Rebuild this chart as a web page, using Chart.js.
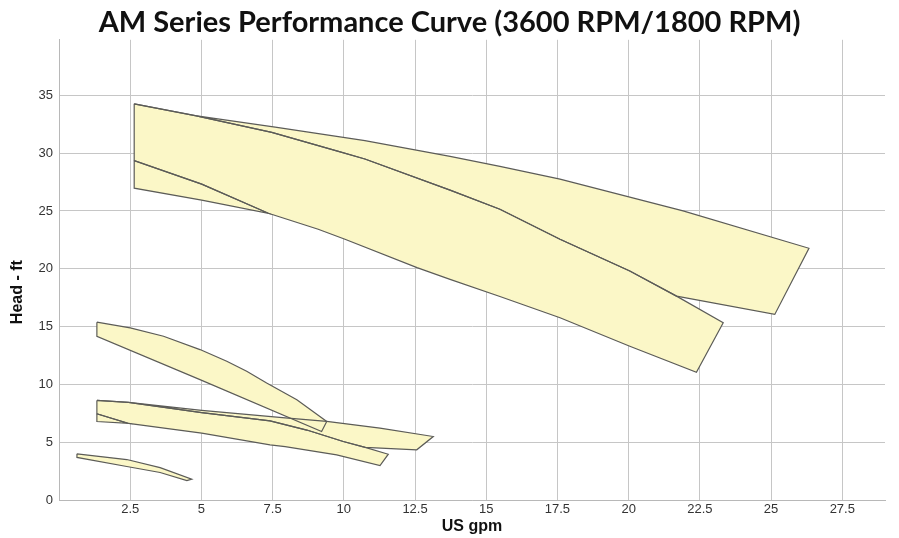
<!DOCTYPE html>
<html>
<head>
<meta charset="utf-8">
<title>AM Series Performance Curve</title>
<script src="https://cdn.jsdelivr.net/npm/chart.js@4.4.1/dist/chart.umd.min.js"></script>
<style>
  body { margin: 0; background: #fff; }
  #wrap { width: 899px; height: 538px; }
</style>
</head>
<body>
<div id="wrap"><canvas id="curve"></canvas></div>
<script>
// 3600 RPM, upper band (top curve down to the right-hand tip)
const bigUpperGpm  = [2.64, 4.78, 7.59, 10.74, 13.73, 15.48, 17.59, 21.91, 26.33, 25.13, 21.68, 20.04, 17.59, 15.48, 13.73, 10.74, 9.81, 7.47, 4.78, 2.64];
const bigUpperHead = [34.26, 33.24, 32.24, 31.08, 29.72, 28.85, 27.75, 25.0, 21.77, 16.05, 17.63, 19.8, 22.55, 25.15, 26.8, 29.49, 30.15, 31.8, 33.24, 34.26];
// 3600 RPM, lower band
const bigLowerGpm  = [2.64, 4.78, 7.47, 9.81, 10.74, 13.73, 15.48, 17.59, 20.04, 21.68, 23.32, 22.38, 20.04, 17.59, 15.48, 13.73, 12.57, 10.04, 9.1, 7.35, 5.01, 2.64, 2.64];
const bigLowerHead = [34.26, 33.24, 31.8, 30.15, 29.49, 26.8, 25.15, 22.55, 19.8, 17.63, 15.33, 11.04, 13.3, 15.76, 17.6, 19.08, 20.1, 22.55, 23.42, 24.8, 27.32, 29.35, 34.26];
const bigWedgeGpm  = [2.64, 5.01, 7.35, 5.01, 2.64, 2.64];
const bigWedgeHead = [29.35, 27.32, 24.8, 25.93, 26.97, 29.35];

// 1800 RPM / small units
const smallTopGpm  = [1.33, 2.5, 3.67, 4.95, 5.89, 6.59, 7.29, 8.35, 9.4, 9.22, 4.95, 1.33, 1.33];
const smallTopHead = [15.38, 14.89, 14.16, 13.01, 12.0, 11.13, 10.12, 8.67, 6.79, 5.92, 10.41, 14.16, 15.38];
const midUpperGpm  = [1.33, 2.44, 5.01, 7.94, 9.4, 11.27, 13.14, 12.56, 10.75, 9.98, 8.7, 7.41, 5.01, 2.44, 1.33];
const midUpperHead = [8.61, 8.44, 7.75, 7.1, 6.8, 6.22, 5.49, 4.34, 4.55, 5.06, 6.05, 6.85, 7.55, 8.44, 8.61];
const midLowerGpm  = [1.33, 2.44, 5.01, 7.41, 8.7, 9.98, 10.75, 11.56, 11.27, 9.75, 7.94, 7.41, 5.01, 2.44, 1.33, 1.33];
const midLowerHead = [8.61, 8.44, 7.55, 6.85, 6.05, 5.06, 4.55, 3.96, 2.98, 3.9, 4.62, 4.77, 5.78, 6.62, 7.46, 8.61];
const midWedgeGpm  = [1.33, 2.44, 1.33, 1.33];
const midWedgeHead = [7.46, 6.62, 6.79, 7.46];
const tinyGpm  = [0.63, 2.38, 3.55, 4.66, 4.49, 3.55, 2.38, 0.63, 0.63];
const tinyHead = [3.99, 3.5, 2.8, 1.8, 1.68, 2.38, 2.9, 3.68, 3.99];

const gpmTicks  = [2.5, 5, 7.5, 10, 12.5, 15, 17.5, 20, 22.5, 25, 27.5];
const headTicks = [0, 5, 10, 15, 20, 25, 30, 35];

const shapes = [
  [bigUpperGpm, bigUpperHead],
  [bigLowerGpm, bigLowerHead],
  [bigWedgeGpm, bigWedgeHead],
  [smallTopGpm, smallTopHead],
  [midUpperGpm, midUpperHead],
  [midLowerGpm, midLowerHead],
  [midWedgeGpm, midWedgeHead],
  [tinyGpm, tinyHead]
];

const datasets = shapes.map(([xs, ys]) => ({
  data: xs.map((x, i) => ({ x: x, y: ys[i] })),
  showLine: true,
  fill: 'shape',
  backgroundColor: 'rgb(251,247,199)',
  borderColor: '#5c5c58',
  borderWidth: 1.2,
  pointRadius: 0,
  tension: 0
}));

const tickFont = { family: '"Liberation Sans", Arial, sans-serif', size: 13 };
const labelFont = { family: '"Liberation Sans", Arial, sans-serif', size: 16, weight: 'bold' };

new Chart(document.getElementById('curve'), {
  type: 'scatter',
  data: { datasets },
  options: {
    responsive: true,
    maintainAspectRatio: false,
    animation: false,
    plugins: {
      legend: { display: false },
      tooltip: { enabled: false },
      filler: { drawTime: 'beforeDatasetsDraw' },
      title: {
        display: true,
        text: 'AM Series Performance Curve (3600 RPM/1800 RPM)',
        color: '#111',
        font: { family: 'Lato, "Open Sans", sans-serif', size: 29, weight: 'bold', lineHeight: 1.2 },
        padding: { top: 5, bottom: 0 }
      }
    },
    scales: {
      x: {
        type: 'linear',
        min: 0,
        max: 29,
        afterFit: (s) => { s.height = 38; s.paddingRight = 14; },
        afterBuildTicks: (s) => { s.ticks = [0].concat(gpmTicks).map(v => ({ value: v })); },
        ticks: {
          color: '#333',
          font: tickFont,
          padding: 2,
          maxRotation: 0,
          callback: (v) => (v === 0 ? '' : v)
        },
        grid: { color: '#c6c6c6', drawTicks: false },
        border: { color: '#b8b8b8' },
        title: { display: true, text: 'US gpm', color: '#111', font: labelFont, padding: { top: 0, bottom: 2 } }
      },
      y: {
        type: 'linear',
        min: 0,
        max: 39.8,
        afterFit: (s) => { s.width = 59; },
        afterBuildTicks: (s) => { s.ticks = headTicks.map(v => ({ value: v })); },
        ticks: { color: '#333', font: tickFont, padding: 6 },
        grid: { color: '#c6c6c6', drawTicks: false },
        border: { color: '#b8b8b8' },
        title: {
          display: true,
          text: 'Head - ft\u00a0\u00a0\u00a0\u00a0\u00a0\u00a0\u00a0\u00a0\u00a0\u00a0',
          color: '#111',
          font: labelFont,
          padding: { top: 8, bottom: 0 }
        }
      }
    }
  }
});
</script>
</body>
</html>
